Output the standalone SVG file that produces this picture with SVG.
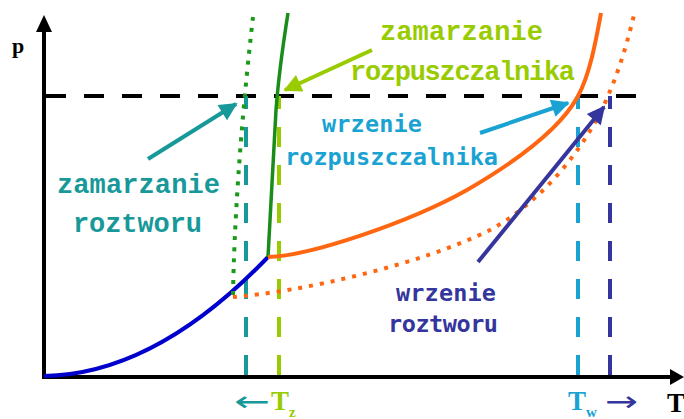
<svg xmlns="http://www.w3.org/2000/svg" width="684" height="419" viewBox="0 0 684 419">
<defs>
<style>
.ax{stroke:#000;stroke-width:4;fill:none}
.c{fill:none;stroke-linecap:butt}
.dash{stroke-width:4;stroke-dasharray:20 18;fill:none}
.dot{stroke-width:4;stroke-dasharray:4 7;fill:none}
.slab{font-family:"Liberation Mono","DejaVu Sans Mono",monospace;font-weight:bold;font-size:27px}
.mono{font-family:"DejaVu Sans Mono","Liberation Mono",monospace;font-weight:bold;font-size:23.5px}
.ser{font-family:"Liberation Serif","DejaVu Serif",serif;font-weight:bold}
.arr{stroke-width:4;fill:none}
</style>
<marker id="mTeal" viewBox="0 0 10 10" refX="9" refY="5" markerWidth="5" markerHeight="4.5" orient="auto"><path d="M0,0L10,5L0,10z" fill="#17999a"/></marker>
<marker id="mLime" viewBox="0 0 10 10" refX="9" refY="5" markerWidth="5" markerHeight="4.5" orient="auto"><path d="M0,0L10,5L0,10z" fill="#99cc00"/></marker>
<marker id="mCyan" viewBox="0 0 10 10" refX="9" refY="5" markerWidth="5" markerHeight="4.5" orient="auto"><path d="M0,0L10,5L0,10z" fill="#1aa3d2"/></marker>
<marker id="mNavy" viewBox="0 0 10 10" refX="9" refY="5" markerWidth="5" markerHeight="4.5" orient="auto"><path d="M0,0L10,5L0,10z" fill="#35359e"/></marker>
</defs>
<rect width="684" height="419" fill="#fff"/>

<g id="axes">
<line class="ax" x1="44" y1="379" x2="44" y2="30"/>
<path d="M36,32L44,15L52,32z" fill="#000"/>
<line class="ax" x1="42" y1="377" x2="672" y2="377"/>
<path d="M670,369L684,377L670,385z" fill="#000"/>
<text class="ser" x="12" y="53" font-size="22">p</text>
<text class="ser" x="667" y="412" font-size="27">T</text>
</g>

<g id="connectors">
<line class="dash" x1="46" y1="96" x2="642" y2="96" stroke="#000" stroke-dasharray="21 17.3" stroke-width="4.5"/>
<line class="dash" x1="246" y1="375" x2="246" y2="96" stroke="#17999a"/>
<line class="dash" x1="279" y1="375" x2="279" y2="96" stroke="#99cc00"/>
<line class="dash" x1="578" y1="375" x2="578" y2="96" stroke="#1aa3d2"/>
<line class="dash" x1="610" y1="375" x2="610" y2="96" stroke="#35359e"/>
</g>

<g id="curves">
<path class="c" d="M44,376 C120,375 195,333 268,257" stroke="#0000cc" stroke-width="4"/>
<path class="c" d="M268,257 L276,110 Q279,70 288,13" stroke="#1a8c1a" stroke-width="3.5"/>
<path class="dot" d="M233,295 C234,230 240,130 253,17" stroke="#1a9a1a"/>
<path class="c" d="M268,257 C310,256 410,222 467,190 C510,165 560,130 578,96 C590,74 596,40 601,13" stroke="#ff6611" stroke-width="4"/>
<path class="dot" d="M233,297 C300,292 420,265 490,230 C540,203 585,150 608,96 C620,68 628,40 634,15" stroke="#ff6611"/>
</g>

<g id="arrows">
<line class="arr" x1="148" y1="159" x2="236" y2="104" stroke="#17999a" marker-end="url(#mTeal)"/>
<line class="arr" x1="372" y1="50" x2="285" y2="90" stroke="#99cc00" marker-end="url(#mLime)"/>
<line class="arr" x1="480" y1="133" x2="568" y2="103" stroke="#1aa3d2" marker-end="url(#mCyan)"/>
<line class="arr" x1="478" y1="262" x2="604" y2="107" stroke="#35359e" marker-end="url(#mNavy)"/>
</g>

<g id="label-zamarzanie-roztworu" fill="#17999a">
<text class="slab" x="57" y="193" textLength="163" lengthAdjust="spacing">zamarzanie</text>
<text class="slab" x="73" y="232" textLength="129" lengthAdjust="spacing">roztworu</text>
</g>
<g id="label-zamarzanie-rozpuszczalnika" fill="#99cc00">
<text class="slab" x="380" y="40" textLength="163" lengthAdjust="spacing">zamarzanie</text>
<text class="slab" x="350" y="80" textLength="225" lengthAdjust="spacing">rozpuszczalnika</text>
</g>
<g id="label-wrzenie-rozpuszczalnika" fill="#1aa3d2">
<text class="mono" x="322" y="132" textLength="100" lengthAdjust="spacing">wrzenie</text>
<text class="mono" x="285" y="165" textLength="213" lengthAdjust="spacing">rozpuszczalnika</text>
</g>
<g id="label-wrzenie-roztworu" fill="#35359e">
<text class="mono" x="396" y="301" textLength="100" lengthAdjust="spacing">wrzenie</text>
<text class="mono" x="388" y="332" textLength="110" lengthAdjust="spacing">roztworu</text>
</g>

<g id="label-Tz">
<text x="234" y="411" font-family="DejaVu Sans,sans-serif" font-size="28" fill="#17999a" textLength="36" lengthAdjust="spacingAndGlyphs">←</text>
<text class="ser" x="271" y="410" font-size="27" fill="#99cc00">T<tspan font-size="15" dy="7">z</tspan></text>
</g>
<g id="label-Tw">
<text class="ser" x="568" y="410" font-size="27" fill="#1aa3d2">T<tspan font-size="15" dy="7">w</tspan></text>
<text x="605" y="411" font-family="DejaVu Sans,sans-serif" font-size="28" fill="#35359e" textLength="33" lengthAdjust="spacingAndGlyphs">→</text>
</g>
</svg>
